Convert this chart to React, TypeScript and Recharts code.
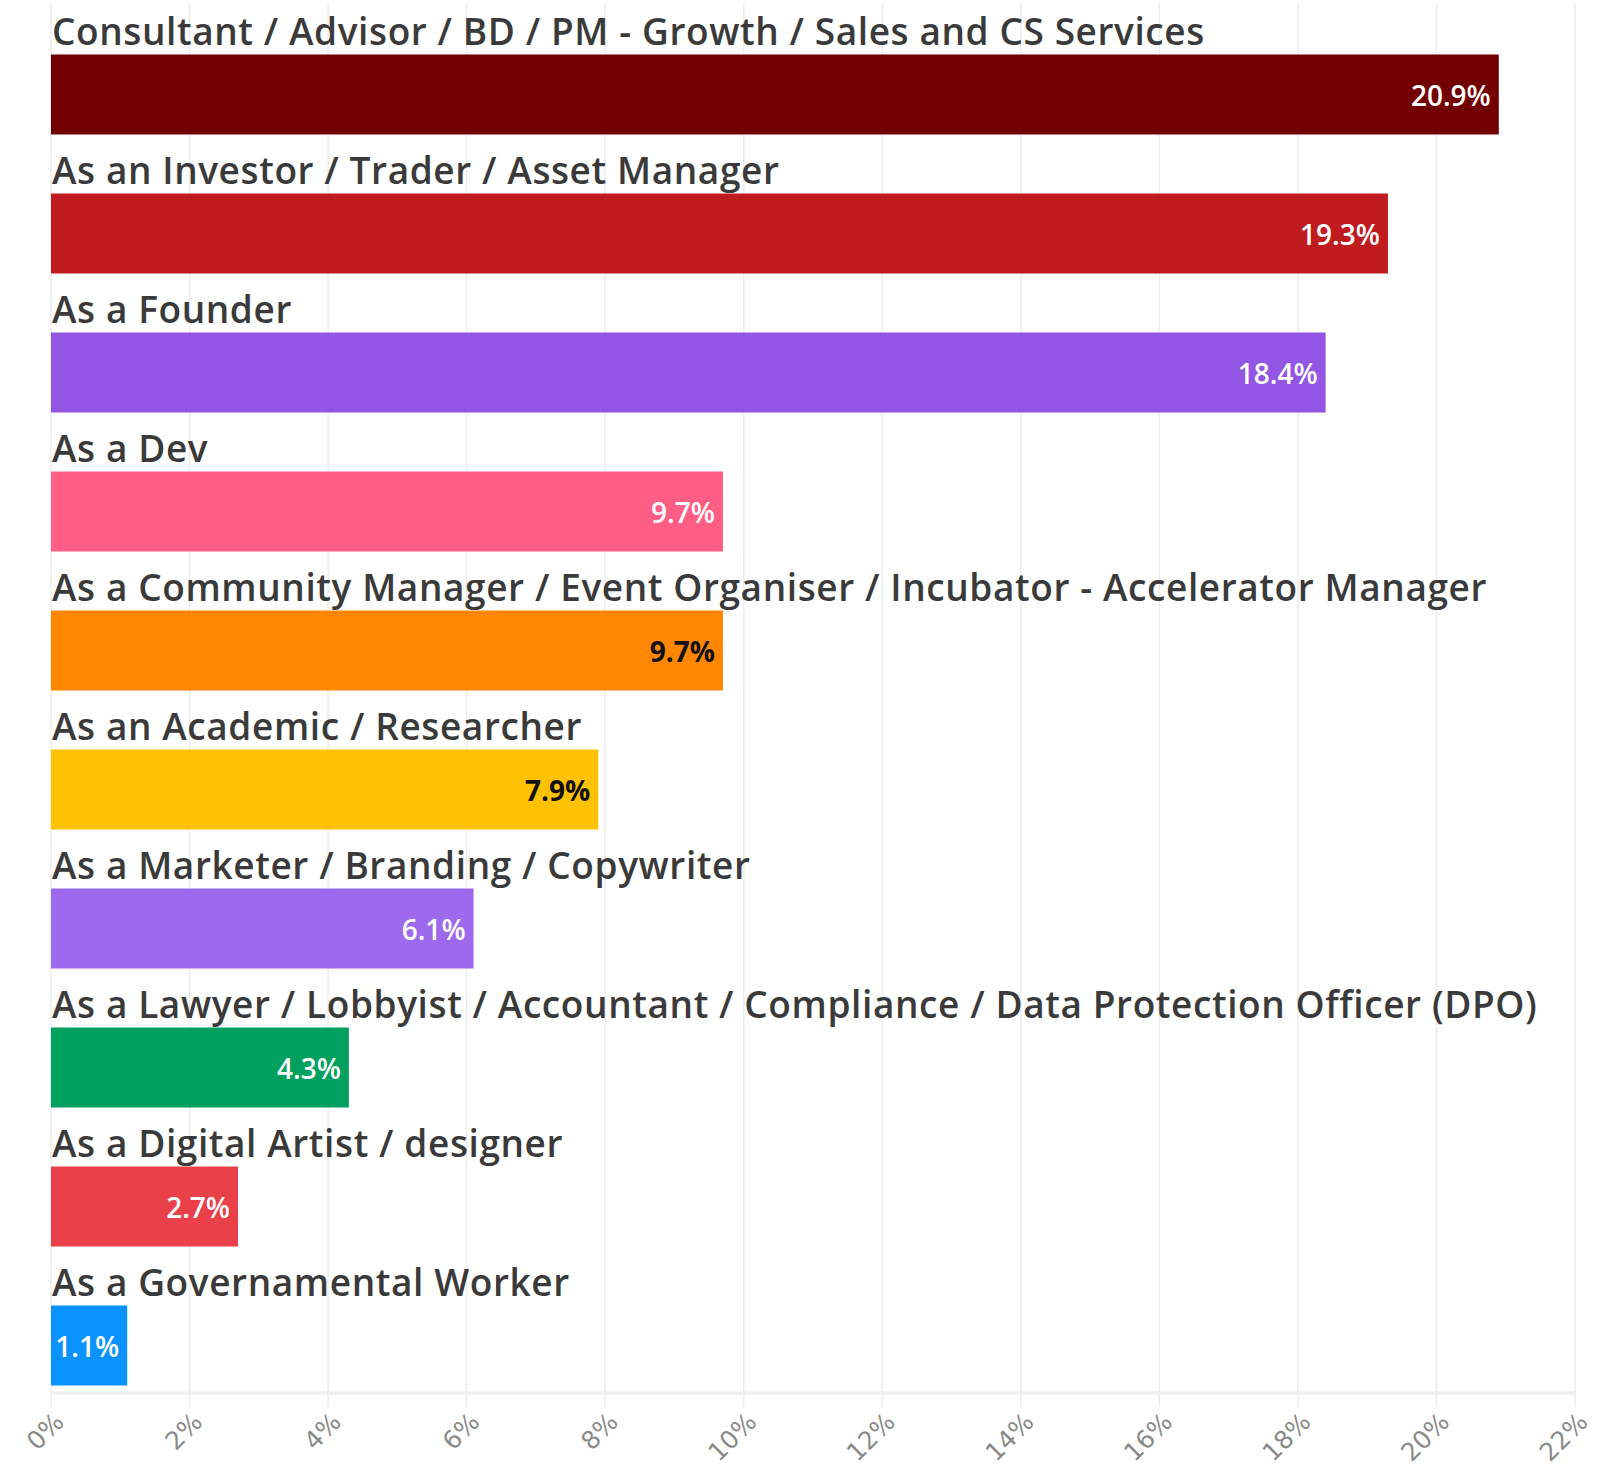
import { BarChart, Bar, XAxis, YAxis, CartesianGrid, LabelList, Cell } from 'recharts';

const roles = [
  'Consultant / Advisor / BD / PM - Growth / Sales and CS Services',
  'As an Investor / Trader / Asset Manager',
  'As a Founder',
  'As a Dev',
  'As a Community Manager / Event Organiser / Incubator - Accelerator Manager',
  'As an Academic / Researcher',
  'As a Marketer / Branding / Copywriter',
  'As a Lawyer / Lobbyist / Accountant / Compliance / Data Protection Officer (DPO)',
  'As a Digital Artist / designer',
  'As a Governamental Worker',
];

const shares = [20.9, 19.3, 18.4, 9.7, 9.7, 7.9, 6.1, 4.3, 2.7, 1.1];

const barColors = [
  '#720000', '#c01c20', '#9355e3', '#ff5d84', '#ff8600',
  '#ffc100', '#9d6aee', '#00a05e', '#e9404a', '#0a93ff',
];

const valueColors = [
  '#ffffff', '#ffffff', '#ffffff', '#ffffff', '#111111',
  '#111111', '#ffffff', '#ffffff', '#ffffff', '#ffffff',
];

const xTicks = [0, 2, 4, 6, 8, 10, 12, 14, 16, 18, 20, 22];

const data = roles.map((name, i) => ({ name, value: shares[i] }));

// bars sit low in their band, the role name goes above them
const SHIFT = 21.5;

const ShiftedBar = (props: any) => {
  const { x, y, width, height, fill } = props;
  return <rect x={x} y={y + SHIFT} width={width} height={height} fill={fill} />;
};

const NameLabel = (props: any) => {
  const { x, y, value } = props;
  return (
    <text
      x={x + 1}
      y={y + SHIFT - 10}
      fill="#3a3a3a"
      fontSize={37}
      fontWeight={600}
      letterSpacing={0.6}
      fontFamily="'Open Sans', sans-serif"
    >
      {value}
    </text>
  );
};

const ValueLabel = (props: any) => {
  const { x, y, width, height, value, index } = props;
  const dark = valueColors[index] === '#111111';
  return (
    <text
      x={x + width - 8}
      y={y + SHIFT + height / 2}
      textAnchor="end"
      dominantBaseline="central"
      fill={valueColors[index]}
      fontSize={28}
      fontWeight={dark ? 700 : 600}
      fontFamily="'Open Sans', sans-serif"
    >
      {`${value}%`}
    </text>
  );
};

const XTick = (props: any) => {
  const { x, y, payload } = props;
  return (
    <g transform={`translate(${x + 2},${y + 2})`}>
      <text
        textAnchor="end"
        transform="rotate(-45)"
        fill="#8a8a8a"
        fontSize={25}
        fontFamily="'DejaVu Sans', sans-serif"
        dy="0.7em"
      >
        {`${payload.value}%`}
      </text>
    </g>
  );
};

export default function App() {
  return (
    <div style={{ position: 'absolute', left: 0, top: 0, background: '#fff' }}>
      <BarChart
        width={1624}
        height={1470}
        data={data}
        layout="vertical"
        margin={{ top: 3, right: 49, left: 51, bottom: 47 }}
      >
        <CartesianGrid horizontal={false} stroke="#ececec" strokeWidth={1.5} />
        <XAxis
          type="number"
          domain={[0, 22]}
          ticks={xTicks}
          interval={0}
          height={30}
          tick={<XTick />}
          tickSize={14}
          tickLine={{ stroke: '#ececec', strokeWidth: 1.5 }}
          axisLine={{ stroke: '#eeeeee', strokeWidth: 3 }}
        />
        <YAxis type="category" dataKey="name" hide />
        <Bar dataKey="value" barSize={80} shape={<ShiftedBar />} isAnimationActive={false}>
          {data.map((_, i) => (
            <Cell key={i} fill={barColors[i]} />
          ))}
          <LabelList dataKey="name" content={<NameLabel />} />
          <LabelList dataKey="value" content={<ValueLabel />} />
        </Bar>
      </BarChart>
    </div>
  );
}
